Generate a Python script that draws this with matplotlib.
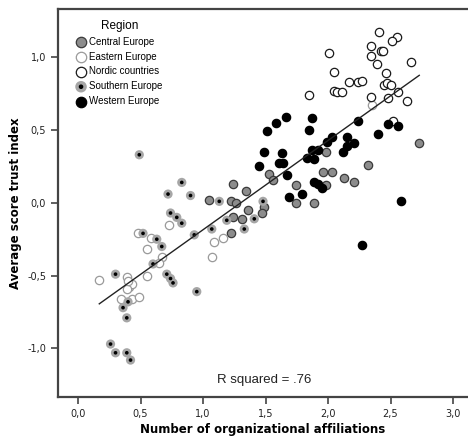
import matplotlib
matplotlib.use("Agg")
import matplotlib.pyplot as plt
from matplotlib.legend_handler import HandlerTuple
from matplotlib.ticker import FuncFormatter
import numpy as np

# values
nordic_x = [2.41, 2.55, 2.51, 2.34, 2.42, 2.44, 2.34, 2.01, 2.66, 2.39, 2.05, 2.46, 2.24, 2.27,
            2.17, 2.05, 2.07, 2.11, 2.45, 2.47, 2.50, 2.56, 1.85, 2.34, 2.48, 2.63, 2.52]
nordic_y = [1.17, 1.14, 1.11, 1.08, 1.04, 1.04, 1.01, 1.03, 0.97, 0.95, 0.90, 0.89, 0.83, 0.84,
            0.83, 0.77, 0.76, 0.76, 0.81, 0.82, 0.81, 0.76, 0.74, 0.73, 0.72, 0.70, 0.56]

western_x = [1.66, 1.58, 1.87, 1.51, 1.85, 2.24, 2.48, 2.56, 2.40, 2.03, 1.99, 2.15, 2.21, 2.15,
             2.12, 1.87, 1.92, 1.49, 1.63, 1.45, 1.61, 1.64, 1.89, 1.83, 1.67, 1.89, 1.92, 1.95,
             1.69, 1.79, 2.58, 2.27]
western_y = [0.59, 0.55, 0.58, 0.49, 0.50, 0.56, 0.54, 0.53, 0.47, 0.45, 0.42, 0.45, 0.41, 0.39,
             0.35, 0.36, 0.36, 0.35, 0.34, 0.25, 0.27, 0.27, 0.30, 0.31, 0.19, 0.14, 0.13, 0.10,
             0.04, 0.06, 0.01, -0.29]

central_x = [2.73, 1.98, 2.32, 1.96, 2.03, 2.13, 2.21, 1.98, 1.74, 1.74, 1.89, 1.53, 1.56, 1.24,
             1.34, 1.05, 1.22, 1.26, 1.36, 1.31, 1.24, 1.49, 1.47, 1.22]
central_y = [0.41, 0.35, 0.26, 0.21, 0.21, 0.17, 0.14, 0.12, 0.12, 0.00, 0.00, 0.20, 0.16, 0.13,
             0.08, 0.02, 0.01, 0.00, -0.05, -0.11, -0.10, -0.03, -0.07, -0.21]

southern_x = [0.49, 0.83, 0.90, 0.72, 1.13, 0.74, 0.79, 0.83, 0.93, 1.07, 1.19, 1.41, 1.33, 1.48,
              0.52, 0.63, 0.67, 0.60, 0.30, 0.71, 0.74, 0.76, 0.95, 0.36, 0.40, 0.39, 0.26, 0.30,
              0.39, 0.42]
southern_y = [0.33, 0.14, 0.05, 0.06, 0.01, -0.07, -0.10, -0.14, -0.22, -0.18, -0.12, -0.11, -0.18,
              0.01, -0.21, -0.25, -0.30, -0.42, -0.49, -0.49, -0.52, -0.55, -0.61, -0.72, -0.68,
              -0.79, -0.97, -1.03, -1.03, -1.08]

eastern_x = [0.17, 0.39, 0.48, 0.58, 0.55, 0.73, 0.67, 0.65, 0.55, 0.34, 0.41, 0.43, 0.39, 0.43,
             0.49, 0.40, 1.16, 1.09, 1.07, 2.35]
eastern_y = [-0.53, -0.51, -0.21, -0.24, -0.32, -0.15, -0.37, -0.41, -0.50, -0.66, -0.58, -0.56,
             -0.59, -0.66, -0.65, -0.54, -0.24, -0.27, -0.37, 0.67]

# fit line
fit_x = [0.17, 2.73]
fit_intercept = -0.798
fit_slope = 0.613

fig = plt.figure(figsize=(4.68, 4.36), dpi=100)
ax = fig.add_axes([0.124, 0.089, 0.876, 0.89])

ms = 36
h_c = ax.scatter(central_x, central_y, s=ms, facecolor="#8c8c8c", edgecolor="#3a3a3a", linewidth=0.9, zorder=3)
h_e = ax.scatter(eastern_x, eastern_y, s=ms, facecolor="white", edgecolor="#9a9a9a", linewidth=0.9, zorder=3)
h_n = ax.scatter(nordic_x, nordic_y, s=ms, facecolor="white", edgecolor="#1a1a1a", linewidth=0.9, zorder=3)
h_s1 = ax.scatter(southern_x, southern_y, s=ms + 8, facecolor="#a6a6a6", edgecolor="none", zorder=3)
h_s2 = ax.scatter(southern_x, southern_y, s=7, facecolor="black", edgecolor="none", zorder=4)
h_w = ax.scatter(western_x, western_y, s=ms, facecolor="black", edgecolor="black", linewidth=0.9, zorder=3)

fx = np.array(fit_x)
ax.plot(fx, fit_intercept + fit_slope * fx, color="#222222", linewidth=1.0, zorder=5)

ax.text(1.49, -1.22, "R squared = .76", ha="center", va="center", fontsize=9.5,
        family="Liberation Sans", color="#222222")

ax.set_xlim(-0.16, 3.12)
ax.set_ylim(-1.335, 1.33)
ax.set_xticks([0, 0.5, 1.0, 1.5, 2.0, 2.5, 3.0])
ax.set_yticks([-1.0, -0.5, 0.0, 0.5, 1.0])
comma = FuncFormatter(lambda v, p: ("%.1f" % v).replace(".", ","))
ax.xaxis.set_major_formatter(comma)
ax.yaxis.set_major_formatter(comma)
ax.tick_params(direction="out", length=5, width=1.2, color="#444444", labelsize=7, labelcolor="#222222")

for side in ["left", "top", "bottom"]:
    ax.spines[side].set_color("#444444")
    ax.spines[side].set_linewidth(1.6)
ax.spines["right"].set_visible(False)

ax.set_xlabel("Number of organizational affiliations", fontsize=8.5, fontweight="bold", labelpad=3)
ax.set_ylabel("Average score trust index", fontsize=8.5, fontweight="bold", labelpad=4)

leg = ax.legend([h_c, h_e, h_n, (h_s1, h_s2), h_w],
                ["Central Europe", "Eastern Europe", "Nordic countries", "Southern Europe", "Western Europe"],
                handler_map={tuple: HandlerTuple(ndivide=1, pad=0)},
                title="Region", loc="upper left", bbox_to_anchor=(0.03, 0.99), frameon=False,
                prop={"family": "Liberation Sans", "size": 7}, title_fontproperties={"family": "Liberation Sans", "size": 8.5},
                markerscale=1.25, handlelength=0.8, handletextpad=0.4, labelspacing=0.5, borderpad=0.2)

fig.savefig("out.png", dpi=100)
